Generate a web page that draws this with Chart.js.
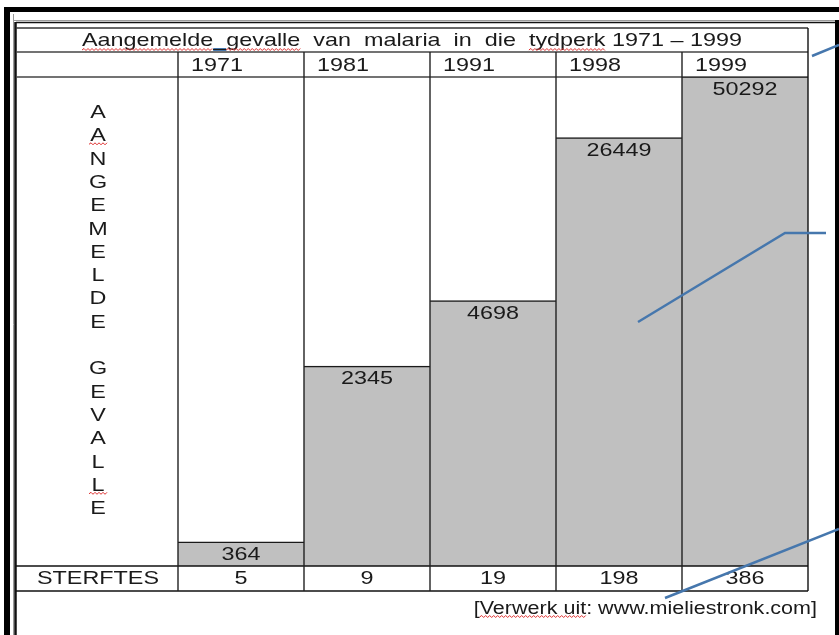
<!DOCTYPE html>
<html>
<head>
<meta charset="utf-8">
<script src="https://cdn.jsdelivr.net/npm/chart.js@4/dist/chart.umd.min.js"></script>
<style>
  html, body { margin: 0; padding: 0; background: #ffffff; }
  #wrap { width: 839px; height: 635px; position: relative; }
  canvas { display: block; }
</style>
</head>
<body>
<div id="wrap"><canvas id="c" width="839" height="635"></canvas></div>
<script>
// ---- data ----
const years = ['1971', '1981', '1991', '1998', '1999'];
const cases = [364, 2345, 4698, 26449, 50292];
const deaths = [5, 9, 19, 198, 386];
const titleText = 'Aangemelde_gevalle  van  malaria  in  die  tydperk 1971 \u2013 1999';
const sideLetters = ['A','A','N','G','E','M','E','L','D','E','','G','E','V','A','L','L','E'];
const rowLabel = 'STERFTES';
const sourceText = '[Verwerk uit: www.mieliestronk.com]';

const FONT = '"Liberation Sans", Arial, sans-serif';
const INK = '#1a1a1a';
const BLUE = '#4677ad';
const SX = 1.23; // horizontal stretch of the text in the reference

function wavy(ctx, x1, x2, y) {
  ctx.save();
  ctx.strokeStyle = '#e03030';
  ctx.lineWidth = 1;
  ctx.beginPath();
  let up = true;
  ctx.moveTo(x1, y);
  for (let x = x1 + 2; x <= x2; x += 2) {
    ctx.lineTo(x, up ? y - 1.5 : y + 0.5);
    up = !up;
  }
  ctx.stroke();
  ctx.restore();
}

function hLine(ctx, x1, x2, y, w, col) {
  ctx.save(); ctx.strokeStyle = col || INK; ctx.lineWidth = w || 1.4;
  ctx.beginPath(); ctx.moveTo(x1, y); ctx.lineTo(x2, y); ctx.stroke(); ctx.restore();
}
function vLine(ctx, x, y1, y2, w, col) {
  ctx.save(); ctx.strokeStyle = col || INK; ctx.lineWidth = w || 1.4;
  ctx.beginPath(); ctx.moveTo(x, y1); ctx.lineTo(x, y2); ctx.stroke(); ctx.restore();
}
function tw(ctx, s, size) {
  ctx.save(); ctx.font = size + 'px ' + FONT;
  const m = ctx.measureText(s).width * SX; ctx.restore(); return m;
}
// draws text with its left edge at x (or centred / right as align says)
function txt(ctx, s, x, y, size, align) {
  const width = tw(ctx, s, size);
  let left = x;
  if (align === 'center') left = x - width / 2;
  else if (align === 'right') left = x - width;
  ctx.save();
  ctx.font = size + 'px ' + FONT;
  ctx.fillStyle = INK;
  ctx.textAlign = 'left';
  ctx.textBaseline = 'alphabetic';
  ctx.translate(left, y);
  ctx.scale(SX, 1);
  ctx.fillText(s, 0, 0);
  ctx.restore();
  return left;
}

const tablePlugin = {
  id: 'tablePlugin',
  beforeDraw(chart) {
    const ctx = chart.ctx;
    ctx.save();
    ctx.fillStyle = '#ffffff';
    ctx.fillRect(0, 0, chart.width, chart.height);
    ctx.restore();
  },
  afterDraw(chart) {
    const ctx = chart.ctx;
    const area = chart.chartArea;
    const meta = chart.getDatasetMeta(0);
    const bars = meta.data;
    const tableLeft = 16;
    const tableRight = area.right;
    const titleTop = 28, titleBottom = 52;
    const yearBottom = area.top;
    const rowTop = area.bottom, rowBottom = area.bottom + 25;

    // ---- page frame ----
    ctx.save();
    ctx.fillStyle = '#000';
    ctx.fillRect(4, 7, chart.width - 4, 5);
    ctx.fillRect(4, 7, 6, chart.height - 7);
    ctx.fillRect(835, 20, 4, chart.height - 20);
    ctx.restore();
    hLine(ctx, 13, 835, 20.5, 1, '#9a9a9a');
    hLine(ctx, 16, 835, 22.5, 1.5, '#111');
    vLine(ctx, 13.5, 14, chart.height, 1, '#9a9a9a');
    vLine(ctx, 15.5, 22, chart.height, 2.5, '#111');

    // ---- table lines ----
    hLine(ctx, tableLeft, tableRight, titleTop, 1.4, '#333');
    hLine(ctx, tableLeft, tableRight, titleBottom, 1.4, '#444');
    hLine(ctx, tableLeft, tableRight, yearBottom, 1.4, '#444');
    hLine(ctx, tableLeft, tableRight, rowTop, 1.4, '#111');
    hLine(ctx, tableLeft, tableRight, rowBottom, 1.4, '#111');
    vLine(ctx, tableRight, titleTop, rowBottom, 1.4, '#111');
    bars.forEach((b) => {
      vLine(ctx, b.x - b.width / 2, titleBottom, rowBottom, 1.4, '#222');
    });

    // ---- title ----
    const T = 19;
    const tx = txt(ctx, titleText, (tableLeft + tableRight) / 2, 46, T, 'center');
    const iUnd = titleText.indexOf('_');
    const xUnd1 = tx + tw(ctx, titleText.slice(0, iUnd), T);
    const xUnd2 = tx + tw(ctx, titleText.slice(0, iUnd + 1), T);
    const iGev = titleText.indexOf(' ', iUnd);
    const xGevEnd = tx + tw(ctx, titleText.slice(0, iGev), T);
    const iTyd = titleText.indexOf('tydperk');
    const xTyd1 = tx + tw(ctx, titleText.slice(0, iTyd), T);
    const xTyd2 = tx + tw(ctx, titleText.slice(0, iTyd + 7), T);
    wavy(ctx, tx, xUnd1, 50);
    wavy(ctx, xUnd2, xGevEnd, 50);
    wavy(ctx, xTyd1, xTyd2, 50);
    hLine(ctx, xUnd1, xUnd2, 48.5, 1, BLUE);
    hLine(ctx, xUnd1, xUnd2, 50.5, 1, BLUE);

    // ---- year labels ----
    bars.forEach((b, i) => {
      txt(ctx, chart.data.labels[i], b.x - b.width / 2 + 13, 71, T, 'left');
    });

    // ---- values inside bars ----
    bars.forEach((b, i) => {
      txt(ctx, String(chart.data.datasets[0].data[i]), b.x, b.y + 18, T, 'center');
    });

    // ---- deaths row ----
    const firstLeft = bars[0].x - bars[0].width / 2;
    txt(ctx, rowLabel, (tableLeft + firstLeft) / 2 + 1, rowTop + 18, T, 'center');
    bars.forEach((b, i) => {
      txt(ctx, String(deaths[i]), b.x, rowTop + 18, T, 'center');
    });

    // ---- vertical side label ----
    const sx = 98;
    sideLetters.forEach((ch, i) => {
      if (ch) txt(ctx, ch, sx, 118 + i * 23.3, T, 'center');
    });
    wavy(ctx, sx - 9, sx + 10, 118 + 1 * 23.3 + 3);
    wavy(ctx, sx - 9, sx + 10, 118 + 16 * 23.3 + 3);

    // ---- source ----
    const S = 17.5;
    const sx1 = txt(ctx, sourceText, 817, 614, S, 'right');
    const vIdx = sourceText.indexOf('Verwerk');
    const cIdx = sourceText.indexOf(':');
    const v1 = sx1 + tw(ctx, sourceText.slice(0, vIdx), S);
    const v2 = sx1 + tw(ctx, sourceText.slice(0, cIdx), S);
    wavy(ctx, v1, v2, 617);

    // ---- annotation pointer lines ----
    ctx.save();
    ctx.strokeStyle = BLUE;
    ctx.lineWidth = 2.5;
    ctx.beginPath();
    ctx.moveTo(812, 56); ctx.lineTo(839, 45);
    ctx.moveTo(638, 322); ctx.lineTo(785, 233); ctx.lineTo(826, 233);
    ctx.moveTo(665, 598); ctx.lineTo(839, 529);
    ctx.stroke();
    ctx.restore();
  }
};

new Chart(document.getElementById('c'), {
  type: 'bar',
  data: {
    labels: years,
    datasets: [{
      label: 'Aangemelde gevalle',
      data: cases,
      backgroundColor: '#c0c0c0',
      borderColor: '#1a1a1a',
      borderWidth: { top: 1.4, left: 0, right: 0, bottom: 0 },
      borderSkipped: false,
      barPercentage: 1.0,
      categoryPercentage: 1.0
    }]
  },
  options: {
    responsive: false,
    animation: false,
    devicePixelRatio: 1,
    layout: { padding: { left: 178, right: 31, top: 77, bottom: 69 } },
    plugins: { legend: { display: false }, tooltip: { enabled: false }, title: { display: false } },
    scales: {
      x: { display: false },
      y: { type: 'logarithmic', display: false, min: 282, max: 50292 }
    }
  },
  plugins: [tablePlugin]
});
</script>
</body>
</html>
